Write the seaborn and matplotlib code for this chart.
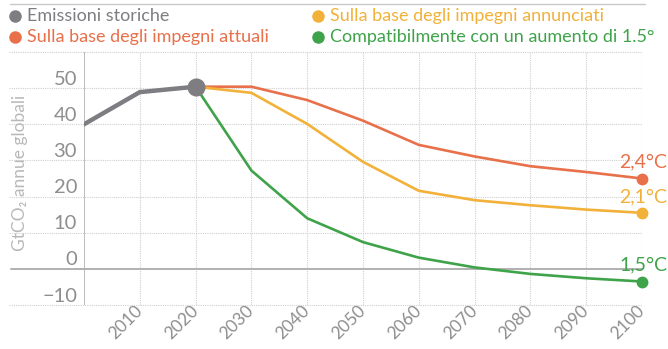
import matplotlib
matplotlib.use("Agg")
import matplotlib.pyplot as plt
from matplotlib.lines import Line2D
from matplotlib.transforms import ScaledTranslation
import pandas as pd
import seaborn as sns

# Emissions in GtCO2 per year
hist_years = [2000, 2010, 2020]
hist_values = [40.0, 48.9, 50.4]

scen_years = [2020, 2030, 2040, 2050, 2060, 2070, 2080, 2090, 2100]
current_pledges = [50.4, 50.4, 46.7, 41.0, 34.3, 31.1, 28.4, 26.8, 25.0]
announced_pledges = [50.4, 48.7, 40.1, 29.6, 21.6, 19.0, 17.6, 16.4, 15.5]
path_1_5 = [50.4, 27.2, 14.0, 7.4, 3.1, 0.4, -1.4, -2.6, -3.5]

series_names = [
    "Emissioni storiche",
    "Sulla base degli impegni attuali",
    "Sulla base degli impegni annunciati",
    "Compatibilmente con un aumento di 1.5°",
]
end_labels = ["2,4°C", "2,1°C", "1,5°C"]
x_ticks = [2010, 2020, 2030, 2040, 2050, 2060, 2070, 2080, 2090, 2100]
y_ticks = [-10, 0, 10, 20, 30, 40, 50]

GRAY = "#7d7d82"
RED = "#e8704a"
YELLOW = "#f2b139"
GREEN = "#3fa34a"
TXT_GRAY = "#8e8e8e"
FONT = ["Lato", "DejaVu Sans"]

sns.set_theme(style="white")
plt.rcParams["font.family"] = FONT

fig = plt.figure(figsize=(6.68, 3.49), dpi=100)
ax = fig.add_axes([84 / 668, 44 / 349, 558 / 668, 253 / 349])

scen = pd.DataFrame({
    "year": scen_years * 3,
    "value": current_pledges + announced_pledges + path_1_5,
    "scenario": [series_names[1]] * 9 + [series_names[2]] * 9 + [series_names[3]] * 9,
})
palette = {series_names[1]: RED, series_names[2]: YELLOW, series_names[3]: GREEN}
sns.lineplot(data=scen, x="year", y="value", hue="scenario", palette=palette,
             linewidth=1.9, legend=False, ax=ax, zorder=3)

hist = pd.DataFrame({"year": hist_years, "value": hist_values})
sns.lineplot(data=hist, x="year", y="value", color=GRAY, linewidth=3.2,
             legend=False, ax=ax, zorder=4)
ax.plot([hist_years[-1]], [hist_values[-1]], "o", color=GRAY, ms=12, zorder=5,
        clip_on=False)

# end-of-century markers with warming labels
for vals, col, lab in zip([current_pledges, announced_pledges, path_1_5],
                          [RED, YELLOW, GREEN], end_labels):
    ax.plot([scen_years[-1]], [vals[-1]], "o", color=col, ms=7.5, zorder=5,
            clip_on=False)
    ax.annotate(lab, (scen_years[-1], vals[-1]), xytext=(1, 5.5),
                textcoords="offset points", ha="center", va="bottom",
                color=col, fontsize=14, family=FONT, annotation_clip=False)

ax.set_xlim(2000, 2100)
ax.set_ylim(-10, 60)
ax.set_xticks(x_ticks)
ax.set_yticks(y_ticks)
ax.set_xlabel("")
ax.set_ylabel("")

for s in ax.spines.values():
    s.set_visible(False)

# grid: dotted light lines, extended to the left of the axis
for v in range(-10, 61, 10):
    if v == 0:
        continue
    ax.axhline(v, xmin=-0.135, xmax=1, color="#d0d0d0", lw=0.8, ls=(0, (1, 1)),
               clip_on=False, zorder=1)
for yr in x_ticks:
    ax.axvline(yr, color="#d0d0d0", lw=0.8, ls=(0, (1, 1)), zorder=1)
ax.axhline(0, xmin=-0.13, xmax=1, color="#b0b0b0", lw=1.4, clip_on=False, zorder=2)
ax.axvline(2000, color="#b0b0b0", lw=1.2, zorder=2)

ax.tick_params(axis="both", length=0, colors=TXT_GRAY)
ax.tick_params(axis="y", labelsize=14.5, pad=5)
ax.tick_params(axis="x", labelsize=12.5, pad=2)
shift = ScaledTranslation(0, 2.5 / 72, fig.dpi_scale_trans)
for lab in ax.get_yticklabels():
    lab.set_verticalalignment("baseline")
    lab.set_transform(lab.get_transform() + shift)
for lab in ax.get_xticklabels():
    lab.set_rotation(45)
    lab.set_ha("right")
    lab.set_va("center")
    lab.set_rotation_mode("anchor")

fig.text(20 / 668, 1 - 173 / 349, "GtCO₂ annue globali", rotation=90,
         ha="center", va="center", color="#b8b8b8", fontsize=12.5, family=FONT)

# top rule
fig.add_artist(Line2D([10 / 668, 645 / 668], [1 - 4 / 349, 1 - 4 / 349],
                      color="#c8c8c8", lw=1.0))

# legend
legend_pos = [(15, 16), (15, 37), (318, 16), (318, 37)]
legend_cols = [GRAY, RED, YELLOW, GREEN]
for (px, py), name, col in zip(legend_pos, series_names, legend_cols):
    fig.add_artist(Line2D([px / 668], [1 - py / 349], marker="o", ms=8,
                          color=col, lw=0))
    fig.text((px + 12) / 668, 1 - py / 349, name, ha="left", va="center",
             color=col, fontsize=13, family=FONT)

fig.savefig("out.png", dpi=100)
